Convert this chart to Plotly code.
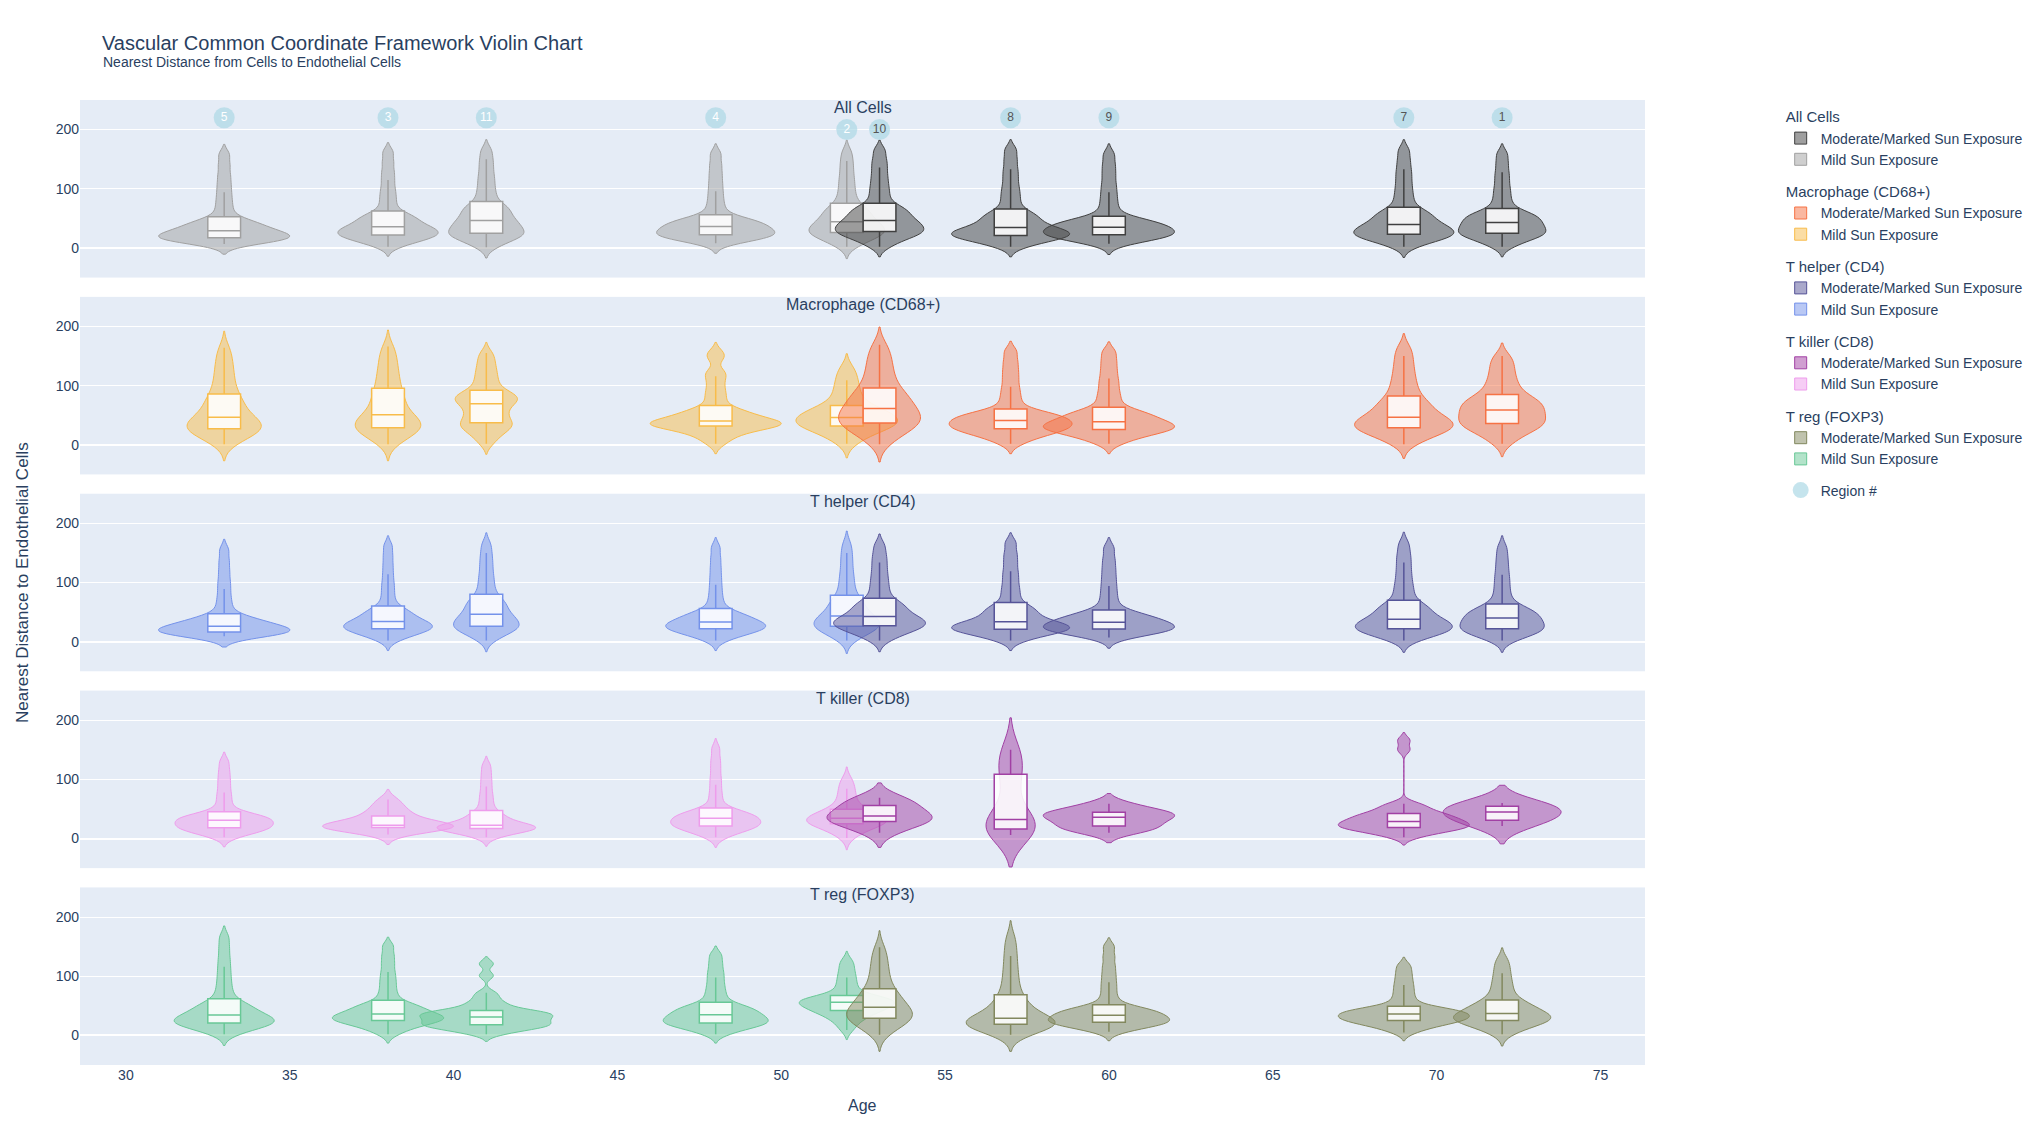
import plotly.graph_objects as go
from plotly.subplots import make_subplots

# ---------------- data ----------------
REGIONS = [5, 3, 11, 4, 2, 10, 8, 9, 7, 1]
AGES = [33, 38, 41, 48, 52, 53, 57, 60, 69, 72]
SUN_EXPOSURE = ["Mild", "Mild", "Mild", "Mild", "Mild",
                "Moderate/Marked", "Moderate/Marked", "Moderate/Marked",
                "Moderate/Marked", "Moderate/Marked"]
CELL_TYPES = ["All Cells", "Macrophage (CD68+)", "T helper (CD4)",
              "T killer (CD8)", "T reg (FOXP3)"]

# nearest distance to endothelial cells (estimated samples), per region
ALL_CELLS = {
    5: [6.5, 9.4, 11.4, 12.9, 14.1, 15.1, 16, 16.7, 17.7, 19.3, 20.7, 22.3, 23.7, 25.3, 26.7, 28.3, 30.2, 32.8, 35.2, 37.8, 40.2, 42.8, 45.2, 47.8, 58, 69, 81, 94, 108, 123, 140, 158],
    3: [2, 8, 11, 14, 16, 18, 20, 21, 23, 25, 26, 28, 30, 32, 33, 35, 37, 40, 43, 46, 49, 52, 55, 58, 67, 78, 89, 101, 115, 129, 145, 162],
    11: [1, 8, 12, 16, 18, 21, 23, 24, 26, 29, 32, 34, 37, 40, 42, 45, 48, 52, 55, 59, 63, 67, 70, 74, 83, 92, 102, 113, 124, 137, 150, 165],
    4: [8, 11.9, 14.6, 16.5, 18.1, 19.5, 20.6, 21.6, 22.8, 24.7, 26.3, 28.2, 29.8, 31.7, 33.3, 35.2, 37, 39, 41, 43, 45, 47, 49, 51, 61, 71, 83, 96, 110, 125, 141, 159],
    2: [2, 9, 13, 17, 19, 22, 24, 25, 27, 29, 32, 34, 36, 38, 41, 43, 46, 50, 53, 57, 60, 64, 68, 71, 80, 89, 99, 110, 121, 134, 147, 162],
    10: [2, 9, 14, 18, 21, 23, 25, 27, 29, 31, 34, 36, 38, 40, 43, 45, 48, 51, 54, 58, 61, 64, 68, 71, 80, 90, 100, 111, 123, 136, 149, 165],
    8: [2, 7, 11, 14, 16, 18, 19, 20, 22, 23, 25, 27, 28, 30, 32, 33, 36, 40, 43, 47, 50, 54, 58, 61, 71, 82, 93, 105, 119, 133, 149, 166],
    9: [7, 11.2, 14, 16.2, 17.8, 19.3, 20.5, 21.6, 22.8, 24.5, 26, 27.7, 29.3, 31, 32.5, 34.2, 35.9, 37.9, 39.7, 41.6, 43.4, 45.4, 47.2, 49.1, 58, 69, 81, 94, 108, 124, 140, 158],
    7: [2, 8, 12, 15, 17, 19, 21, 22, 24, 26, 28, 30, 32, 34, 36, 38, 41, 44, 47, 51, 54, 58, 61, 64, 74, 84, 95, 107, 120, 133, 148, 165],
    1: [2, 8, 13, 16, 19, 21, 23, 24, 26, 28, 31, 33, 35, 37, 40, 42, 44, 47, 49, 52, 54, 57, 59, 62, 71, 80, 91, 102, 115, 128, 143, 159],
}
MACROPHAGE = {
    5: [1, 8, 13, 17, 20, 22, 24, 26, 28, 31, 33, 35, 38, 40, 42, 45, 48, 53, 58, 63, 67, 72, 77, 82, 90, 98, 107, 117, 127, 138, 150, 164],
    3: [1, 9, 14, 18, 21, 24, 26, 28, 30, 33, 36, 38, 41, 43, 46, 49, 53, 58, 64, 69, 75, 80, 86, 91, 100, 107, 115, 124, 133, 143, 154, 166],
    11: [2, 12, 18, 23, 27, 31, 33, 36, 39, 43, 47, 52, 55, 60, 64, 68, 71, 74, 76, 79, 81, 84, 86, 89, 95, 102, 109, 117, 125, 134, 144, 155],
    4: [2, 10, 16, 20, 24, 27, 29, 31, 32.5, 33.5, 34.5, 35.5, 36.5, 37.5, 38.5, 39.5, 41, 44, 47, 50, 52, 55, 58, 61, 72, 82, 92, 104, 116, 124, 146, 156],
    2: [2, 10, 16, 20, 24, 27, 29, 31, 33, 35, 36, 38, 40, 42, 43, 45, 47, 50, 52, 54, 57, 59, 61, 63, 70, 77, 84, 92, 100, 109, 119, 130],
    10: [1, 11, 18, 23, 27, 31, 33, 36, 38, 42, 44, 48, 50, 54, 56, 60, 63, 67, 71, 76, 79, 84, 88, 92, 100, 108, 116, 125, 135, 145, 156, 169],
    8: [2, 9, 14, 17, 20, 22, 24, 26, 28, 30, 31, 33, 35, 37, 38, 40, 42, 44, 46, 48, 50, 52, 54, 56, 65, 75, 86, 98, 112, 126, 141, 158],
    9: [2, 9, 13, 17, 19, 22, 24, 25, 27, 28, 30, 32, 33, 35, 36, 38, 40, 43, 46, 48, 51, 53, 56, 59, 68, 78, 88, 100, 112, 126, 141, 157],
    7: [1, 9, 14, 18, 21, 24, 26, 28, 30, 32, 34, 36, 39, 41, 44, 45, 48, 52, 57, 61, 65, 69, 74, 78, 87, 95, 104, 114, 125, 137, 150, 164],
    1: [2, 12, 18, 23, 26, 30, 33, 35, 37, 40, 43, 46, 49, 52, 55, 58, 60, 64, 66, 70, 72, 76, 78, 82, 88, 95, 102, 110, 119, 129, 139, 150],
}
T_HELPER = {
    5: [9, 11, 12.3, 13.3, 14, 14.7, 15.3, 15.8, 16.6, 17.9, 19.1, 20.4, 21.6, 22.9, 24.1, 25.4, 27, 29.2, 31.3, 33.5, 35.5, 37.7, 39.8, 42, 52, 63, 75, 89, 103, 119, 136, 155],
    3: [2, 8, 11, 14, 16, 18, 20, 21, 23, 24, 26, 27, 29, 30, 32, 33, 35, 38, 41, 44, 47, 50, 53, 56, 65, 76, 88, 100, 114, 129, 145, 162],
    11: [2, 9, 13, 17, 19, 22, 24, 25, 27, 30, 32, 35, 37, 40, 42, 45, 48, 52, 56, 60, 63, 67, 71, 76, 84, 93, 103, 113, 125, 137, 150, 165],
    4: [2, 8, 11, 14, 16, 18, 20, 21, 22.7, 24.1, 25.4, 26.8, 28.2, 29.6, 30.9, 32.3, 34, 36.6, 38.9, 41.4, 43.6, 46.1, 48.4, 50.9, 61, 71, 83, 96, 110, 125, 141, 159],
    2: [2, 9, 13, 17, 19, 22, 24, 25, 27, 29, 31, 34, 36, 39, 41, 42, 45, 49, 53, 58, 61, 66, 70, 74, 83, 92, 102, 112, 124, 137, 150, 165],
    10: [2, 9, 14, 17, 20, 22, 24, 26, 28, 30, 32, 34, 35, 37, 39, 41, 44, 48, 51, 55, 58, 62, 65, 69, 78, 88, 98, 109, 121, 134, 147, 163],
    8: [2, 7, 11, 14, 16, 18, 19, 20, 22, 23, 25, 26, 28, 29, 31, 32, 35, 39, 42, 46, 50, 54, 57, 61, 71, 82, 93, 106, 119, 134, 149, 167],
    9: [7, 10.9, 13.6, 15.5, 17.1, 18.5, 19.6, 20.6, 22, 23, 25, 26, 28, 29, 31, 32, 34, 36, 38, 40, 43, 45, 47, 49, 58, 69, 81, 94, 108, 123, 139, 158],
    7: [2, 8, 11, 14, 16, 18, 20, 21, 23, 25, 27, 29, 31, 33, 35, 37, 39, 43, 47, 51, 54, 58, 61, 65, 75, 85, 95, 107, 120, 134, 148, 165],
    1: [2, 8, 11, 14, 16, 18, 20, 21, 23, 25, 28, 30, 32, 34, 37, 39, 41, 44, 46, 49, 51, 54, 56, 59, 68, 78, 89, 101, 113, 127, 142, 159],
}
T_KILLER = {
    5: [2, 6.5, 9.5, 12, 13.5, 15, 16.5, 17.5, 19, 20.5, 22, 23.7, 25.3, 27, 28.5, 30.2, 31.7, 33.1, 34.4, 35.8, 37.2, 38.6, 39.9, 41.3, 49, 58, 68, 78, 90, 102, 115, 130],
    3: [7, 12, 15, 17, 18, 19, 20, 21, 21, 22, 23, 25, 28, 32, 36, 40, 45, 50, 58, 66],
    11: [2, 6.2, 9, 11.2, 12.8, 14.3, 15.5, 16.6, 17.3, 18, 18.6, 19.2, 19.8, 20.5, 21, 21.7, 23.4, 26.4, 29.1, 32.1, 34.9, 37.9, 40.6, 43.6, 51, 59, 68, 77, 88, 99, 111, 124],
    4: [2, 7, 11, 14, 16, 18, 19, 20, 22, 23.5, 25, 26.7, 28.3, 30, 31.5, 33.2, 35, 36.7, 38.3, 40.2, 41.8, 43.7, 45.3, 47.2, 56, 67, 78, 91, 104, 119, 134, 152],
    2: [1, 7.7, 12.3, 15.6, 18.3, 20.7, 22.6, 24.3, 25.5, 26.7, 27.8, 29, 30, 31.2, 32.3, 33.5, 35, 36.7, 38.3, 40.2, 41.8, 43.7, 45.3, 47.2, 52, 58, 63, 70, 77, 84, 92, 101],
    10: [10, 22, 28, 31, 34, 38, 42, 50, 58, 63, 69],
    8: [6, 10, 14, 17, 22, 28, 32, 45, 80, 105, 120, 140, 150],
    9: [10, 16, 20, 25, 31, 36, 39, 42, 45, 50, 59],
    7: [2, 6.8, 10, 12.4, 14.2, 15.9, 17.3, 18.5, 19.7, 21.1, 22.4, 23.8, 25.2, 26.6, 27.9, 29.3, 31, 32.9, 34.7, 36.6, 38.4, 40.4, 42.2, 44, 48, 52, 56, 59, 150, 166],
    1: [21, 28, 32, 40, 45, 48, 54, 57, 60],
}
T_REG = {
    5: [2, 7, 11, 14, 16, 18, 19, 20, 22, 23.5, 25, 26.7, 28.3, 30, 31.5, 33.2, 35.4, 38.6, 41.4, 44.6, 47.4, 50.6, 53.4, 56.6, 67, 77, 89, 102, 116, 131, 148, 166],
    3: [2, 8.4, 12.8, 16, 18.6, 20.9, 22.7, 24.3, 25.7, 27.1, 28.4, 29.8, 31.2, 32.6, 33.9, 35.3, 37, 40, 42, 45, 47, 50, 52, 55, 64, 73, 84, 95, 107, 121, 135, 151],
    11: [2, 6.5, 9.5, 12, 13.5, 15, 16.5, 17.5, 19, 20.7, 22.3, 24.2, 25.8, 27.7, 29.3, 31.2, 32.7, 34.1, 35.4, 36.8, 38.2, 39.6, 40.9, 42.3, 47, 52, 56, 64, 72, 101, 121],
    4: [2, 7, 11, 14, 16, 18, 19, 20, 22, 23.7, 25.3, 27.2, 28.8, 30.7, 32.3, 34.2, 36, 38.4, 40.6, 42.9, 45.1, 47.4, 49.6, 51.9, 60, 68, 77, 87, 98, 109, 122, 136],
    2: [9, 18, 24.5, 29, 32.8, 36, 38.7, 41, 43, 44.7, 46.3, 48.2, 49.8, 51.7, 53.3, 55.2, 56.5, 57.7, 58.8, 60, 61, 62.2, 63.3, 64.5, 70, 76, 83, 90, 98, 106, 116, 126],
    10: [1, 9, 14, 18, 21, 24, 26, 28, 30, 32, 35, 37, 39, 41, 44, 46, 49, 53, 56, 60, 64, 68, 71, 75, 83, 90, 98, 107, 116, 126, 137, 149],
    8: [1, 6, 9.5, 12, 14, 16, 17.2, 18.5, 19.5, 20.7, 21.8, 23, 24, 25.2, 26.3, 27.5, 30.3, 35.2, 39.8, 44.7, 49.3, 54.2, 58.8, 63.7, 74, 84, 95, 107, 120, 134, 149, 166],
    9: [6, 10.5, 13.5, 15.8, 17.5, 19.1, 20.4, 21.5, 22.7, 24.3, 25.7, 27.3, 28.7, 30.3, 31.7, 33.3, 35, 37, 39, 41, 42, 44, 46, 48, 56, 66, 78, 90, 103, 117, 133, 150],
    7: [5, 10.6, 14.4, 17.2, 19.4, 21.4, 23, 24.4, 25.7, 27.1, 28.4, 29.8, 31.2, 32.6, 33.9, 35.3, 36.7, 38.1, 39.4, 40.8, 42.2, 43.6, 44.9, 46.3, 52, 59, 67, 76, 85, 95, 106, 118],
    1: [2, 8.4, 12.8, 16, 18.6, 20.9, 22.7, 24.3, 25.7, 27.3, 28.7, 30.3, 31.7, 33.3, 34.7, 36.3, 38, 41, 43.5, 46, 49, 51.5, 54, 57, 63, 70, 78, 86, 95, 105, 116, 128],
}
DISTANCES = {
    "All Cells": ALL_CELLS,
    "Macrophage (CD68+)": MACROPHAGE,
    "T helper (CD4)": T_HELPER,
    "T killer (CD8)": T_KILLER,
    "T reg (FOXP3)": T_REG,
}

# ---------------- styles ----------------
# violin max width (age units) per cell type, per region
VIOLIN_WIDTH = {
    "All Cells": {5: 4.0, 3: 3.06, 11: 2.3, 4: 3.6, 2: 2.3, 10: 2.7, 8: 3.6, 9: 4.0, 7: 3.05, 1: 2.67},
    "Macrophage (CD68+)": {5: 2.26, 3: 2.0, 11: 1.9, 4: 4.0, 2: 3.1, 10: 2.5, 8: 3.75, 9: 4.0, 7: 3.0, 1: 2.65},
    "T helper (CD4)": {5: 4.0, 3: 2.7, 11: 2.0, 4: 3.05, 2: 2.0, 10: 2.8, 8: 3.6, 9: 4.0, 7: 2.96, 1: 2.57},
    "T killer (CD8)": {5: 3.0, 3: 4.0, 11: 3.0, 4: 2.75, 2: 2.45, 10: 3.2, 8: 1.5, 9: 4.0, 7: 4.0, 1: 3.6},
    "T reg (FOXP3)": {5: 3.05, 3: 3.4, 11: 4.05, 4: 3.2, 2: 2.9, 10: 2.0, 8: 2.7, 9: 3.7, 7: 4.0, 1: 2.96},
}
# KDE bandwidth per cell type, per region
BANDWIDTH = {
    "All Cells": {5: 8.5, 3: 8, 11: 9, 4: 8.5, 2: 10, 10: 8.5, 8: 8.5, 9: 9, 7: 9, 1: 8.5},
    "Macrophage (CD68+)": {5: 14, 3: 14, 11: 9, 4: 8.5, 2: 12, 10: 15, 8: 8.5, 9: 8.5, 7: 12, 1: 11},
    "T helper (CD4)": {5: 9, 3: 8.5, 11: 9.5, 4: 8.5, 2: 11, 10: 9.5, 8: 8.5, 9: 9, 7: 10, 1: 10},
    "T killer (CD8)": {5: 8, 3: 8.5, 11: 7.5, 4: 8.5, 2: 10, 10: 12.5, 8: 27, 9: 8.5, 7: 6.5, 1: 15},
    "T reg (FOXP3)": {5: 9.5, 3: 7.5, 11: 6, 4: 7.5, 2: 8, 10: 14, 8: 14, 9: 7.5, 7: 7, 1: 10},
}
COLORS = {
    "All Cells": {"Moderate/Marked": "rgb(64,64,64)", "Mild": "rgb(160,160,160)"},
    "Macrophage (CD68+)": {"Moderate/Marked": "rgb(246,114,68)", "Mild": "rgb(248,188,74)"},
    "T helper (CD4)": {"Moderate/Marked": "rgb(86,84,152)", "Mild": "rgb(116,146,234)"},
    "T killer (CD8)": {"Moderate/Marked": "rgb(161,64,164)", "Mild": "rgb(238,156,236)"},
    "T reg (FOXP3)": {"Moderate/Marked": "rgb(130,136,94)", "Mild": "rgb(104,200,150)"},
}
BOX_WIDTH_UNITS = 1.0
LABEL_Y = 220
LABEL_Y_LOW = 200          # lowered labels that would collide with the row title
LOW_LABEL_REGIONS = {2, 10}
FONT = "Liberation Sans, Arial, sans-serif"

fig = make_subplots(rows=5, cols=1, shared_xaxes=True, vertical_spacing=0.02)

for r, ct in enumerate(CELL_TYPES, start=1):
    data = DISTANCES[ct]
    shown = set()
    for region, age, exp in zip(REGIONS, AGES, SUN_EXPOSURE):
        vals = data[region]
        w = VIOLIN_WIDTH[ct][region]
        color = COLORS[ct][exp]
        fig.add_trace(go.Violin(
            x=[age] * len(vals), y=vals,
            name=exp + " Sun Exposure",
            legendgroup=ct, legendgrouptitle_text=ct,
            showlegend=exp not in shown,
            legendrank=r * 10 + (1 if exp.startswith("Moderate") else 2),
            line=dict(color=color, width=1),
            width=w, bandwidth=BANDWIDTH[ct][region],
            spanmode="soft", scalemode="width", points=False,
            box=dict(visible=True, width=BOX_WIDTH_UNITS / w,
                     fillcolor="rgba(255,255,255,0.88)",
                     line=dict(color=color, width=1.5)),
            meanline_visible=False,
            hoverinfo="skip",
        ), row=r, col=1)
        shown.add(exp)

label_y = [LABEL_Y_LOW if reg in LOW_LABEL_REGIONS else LABEL_Y for reg in REGIONS]
fig.add_trace(go.Scatter(
    x=AGES, y=label_y, mode="markers", name="Region #",
    legendgroup="region", legendrank=100,
    marker=dict(size=21, color="lightblue", opacity=0.7),
    hoverinfo="skip",
), row=1, col=1)
fig.add_trace(go.Scatter(
    x=AGES, y=label_y, mode="text", text=[str(x) for x in REGIONS],
    textfont=dict(size=12, color=["white" if e == "Mild" else "#555555" for e in SUN_EXPOSURE]),
    showlegend=False, hoverinfo="skip",
), row=1, col=1)

for r, ct in enumerate(CELL_TYPES, start=1):
    yref = "y domain" if r == 1 else f"y{r} domain"
    fig.add_annotation(text=ct, x=0.5, xref="paper", y=1, yref=yref,
                       yanchor="top", yshift=3, showarrow=False,
                       font=dict(size=16))

fig.add_annotation(text="Age", x=0.5, xref="paper", y=0, yref="paper",
                   yanchor="top", yshift=-30, showarrow=False, font=dict(size=16))
fig.add_annotation(text="Nearest Distance to Endothelial Cells", x=0, xref="paper",
                   y=0.5, yref="paper", xanchor="right", xshift=-46, textangle=-90,
                   showarrow=False, font=dict(size=17))
fig.add_annotation(text="Nearest Distance from Cells to Endothelial Cells",
                   x=0.0134, xref="paper", y=1.039, yref="paper",
                   xanchor="left", yanchor="middle", showarrow=False,
                   font=dict(size=14))

fig.update_xaxes(range=[28.6, 76.36], showgrid=False, dtick=5)
fig.update_yaxes(range=[-50, 250], dtick=100)

fig.update_layout(
    width=2039, height=1146,
    template="plotly",
    font=dict(family=FONT, size=14),
    title=dict(text="Vascular Common Coordinate Framework Violin Chart",
               x=0.05, y=0.9625, yanchor="middle", xanchor="left"),
    margin=dict(l=80, r=393, t=100, b=81),
    violinmode="overlay",
    legend=dict(x=1.086, y=1, xanchor="left", yanchor="top", tracegroupgap=10),
)

fig.write_html("out.html")
